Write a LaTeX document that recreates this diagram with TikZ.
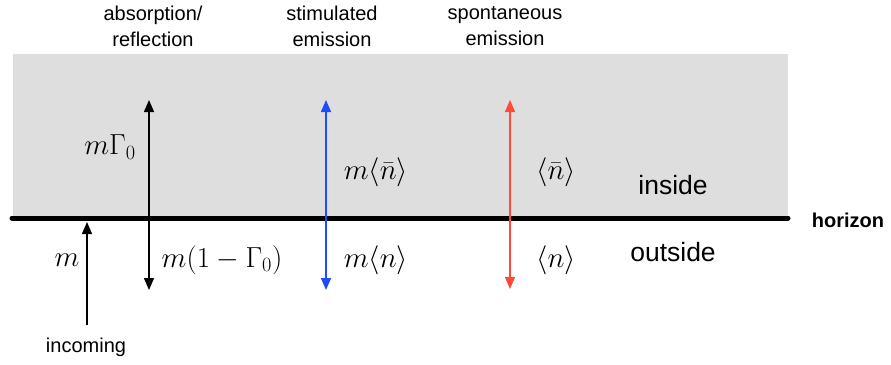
\RequirePackage{fix-cm}
\documentclass[tikz,border=0pt]{standalone}
\usepackage{fontspec}
\setmainfont{Liberation Sans}
\usetikzlibrary{arrows.meta}
\definecolor{inner}{HTML}{DEDEDE}
\definecolor{stimblue}{HTML}{1F4BFF}
\definecolor{sponred}{HTML}{FF4A3A}
\tikzset{
  lbl/.style={inner sep=0pt, align=center, font=\fontsize{20}{26}\selectfont},
  region/.style={inner sep=0pt, font=\fontsize{26.5}{30}\selectfont},
  mathlbl/.style={inner sep=0pt, font=\fontsize{29}{34}\selectfont},
  arr/.style={line width=1.4pt, -{Triangle[length=12pt,width=10pt]}},
  darr/.style={line width=1.4pt, {Triangle[length=12pt,width=10pt]}-{Triangle[length=12pt,width=10pt]}}
}
\begin{document}
\begin{tikzpicture}[x=1pt,y=-1pt]
\useasboundingbox (0,0) rectangle (891,364);
\fill[inner] (13,54) rectangle (788,218);
\coordinate (hl) at (12,218);
\coordinate (hr) at (788,218);
\draw[line width=5pt, line cap=round] (hl) -- (hr);
% top labels
\node[lbl] (abs) at (153,26) {absorption/\\reflection};
\node[lbl] (stim) at (332,26) {stimulated\\emission};
\node[lbl] (spon) at (505,26) {spontaneous\\emission};
% arrows
\coordinate (inA) at (87,325);
\coordinate (inB) at (87,222);
\draw[arr] (inA) -- (inB);
\coordinate (aT) at (149,100);
\coordinate (aB) at (149,290);
\draw[darr] (aB) -- (aT);
\coordinate (sT) at (326,100);
\coordinate (sB) at (326,290);
\draw[darr, stimblue] (sB) -- (sT);
\coordinate (pT) at (510,100);
\coordinate (pB) at (510,289);
\draw[darr, sponred] (pB) -- (pT);
% math labels
\node[mathlbl] (mG) at (110,147) {$m\Gamma_0$};
\node[mathlbl] (m1G) at (222,260) {$m(1-\Gamma_0)$};
\node[mathlbl] (m) at (67,260) {$m$};
\node[mathlbl] (mnb) at (376,172) {$m\langle\bar n\rangle$};
\node[mathlbl] (mn) at (376,260) {$m\langle n\rangle$};
\node[mathlbl] (nb) at (556,172) {$\langle\bar n\rangle$};
\node[mathlbl] (n) at (556,260) {$\langle n\rangle$};
% regions
\node[region] (inside) at (673,185) {inside};
\node[region] (outside) at (673,252) {outside};
\node[lbl, font=\bfseries\fontsize{20}{24}\selectfont] (hor) at (848,220) {horizon};
\node[lbl] (inc) at (86,347) {incoming};
\end{tikzpicture}
\end{document}
